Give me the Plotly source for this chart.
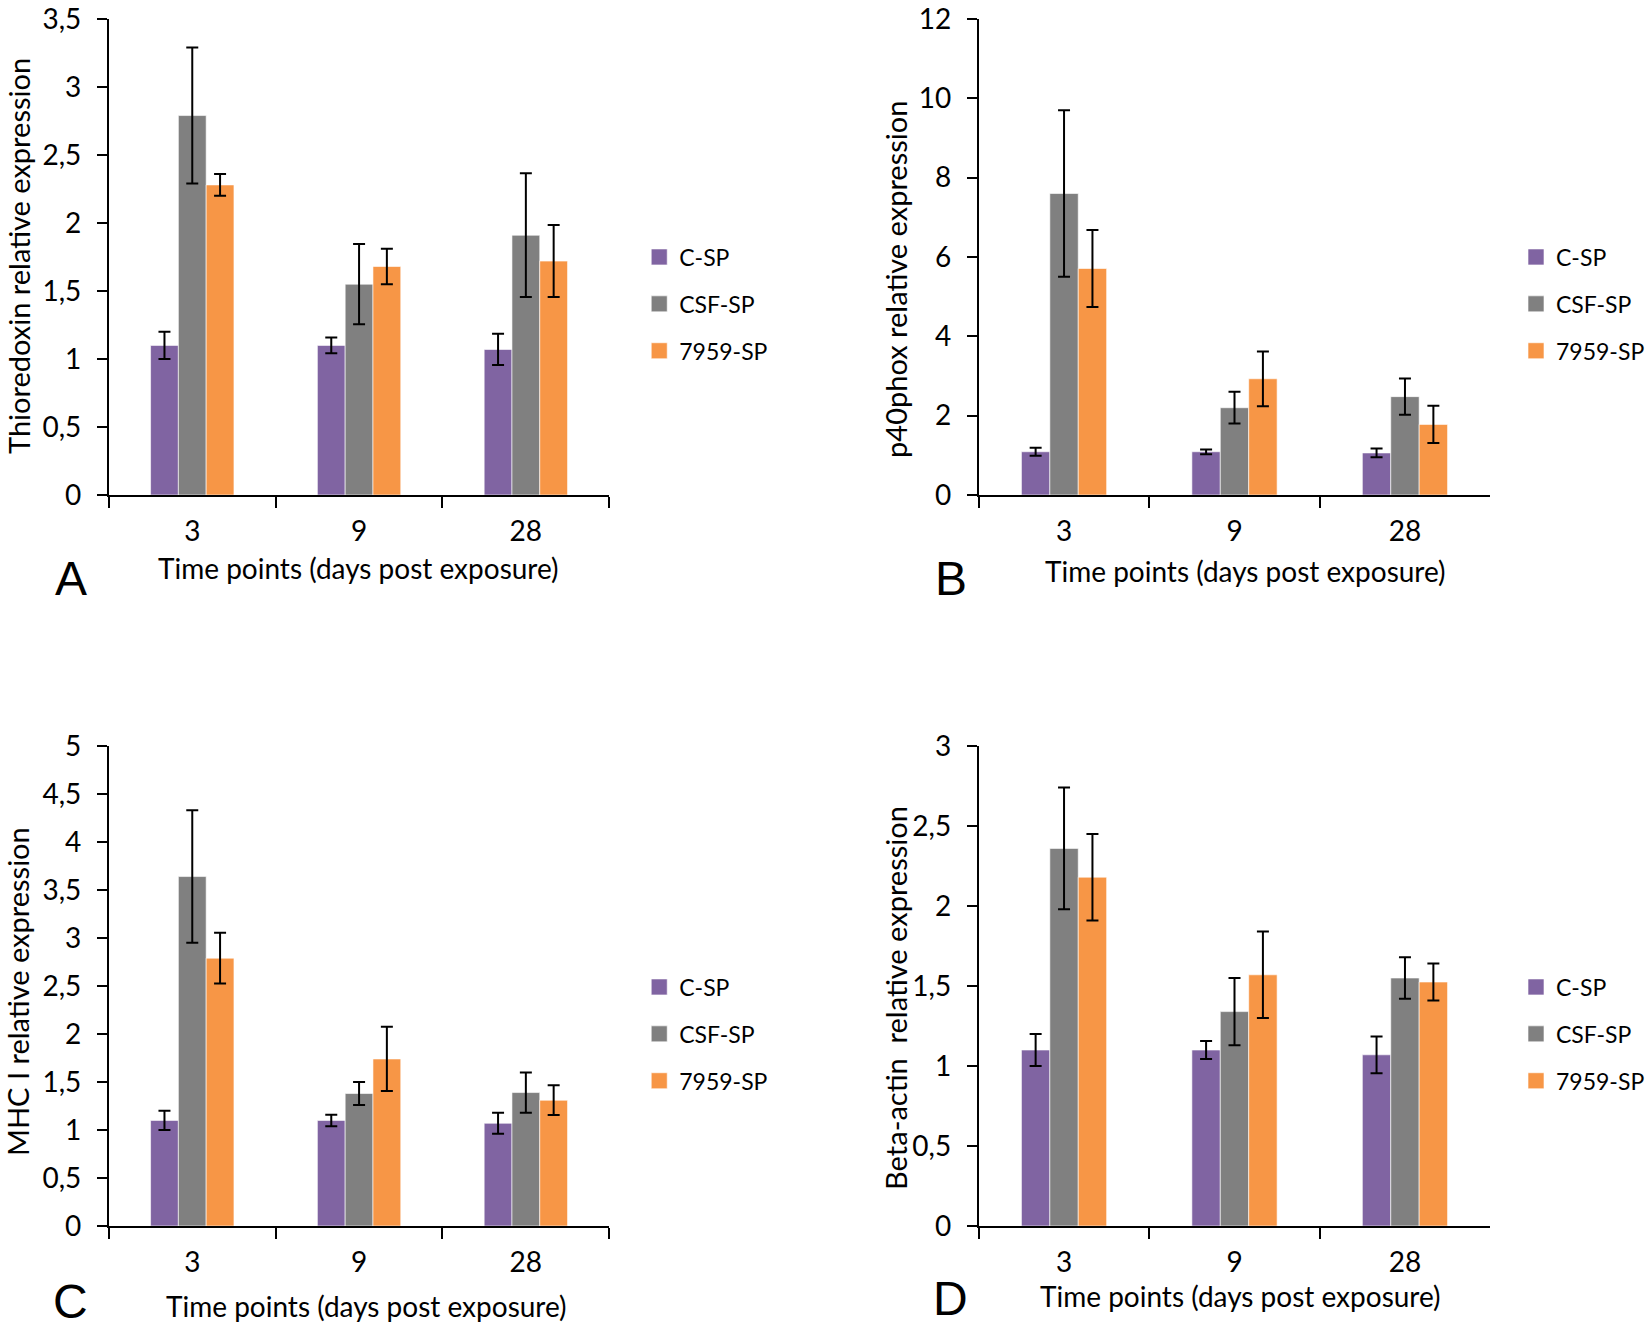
import plotly.graph_objects as go

# ---------------- data ----------------
days = ["3", "9", "28"]
series_names = ["C-SP", "CSF-SP", "7959-SP"]
series_colors = ["#8064A2", "#808080", "#F79646"]

# A: Thioredoxin
thio_c = [1.10, 1.10, 1.07]
thio_c_err = [0.10, 0.058, 0.115]
thio_csf = [2.79, 1.55, 1.91]
thio_csf_err = [0.50, 0.295, 0.455]
thio_7959 = [2.28, 1.68, 1.72]
thio_7959_err = [0.08, 0.13, 0.265]

# B: p40phox
p40_c = [1.09, 1.09, 1.06]
p40_c_err = [0.10, 0.06, 0.11]
p40_csf = [7.60, 2.20, 2.48]
p40_csf_err = [2.10, 0.40, 0.46]
p40_7959 = [5.71, 2.93, 1.78]
p40_7959_err = [0.97, 0.69, 0.47]

# C: MHC I
mhc_c = [1.10, 1.10, 1.07]
mhc_c_err = [0.10, 0.06, 0.11]
mhc_csf = [3.64, 1.38, 1.39]
mhc_csf_err = [0.69, 0.12, 0.21]
mhc_7959 = [2.79, 1.74, 1.31]
mhc_7959_err = [0.265, 0.335, 0.155]

# D: Beta-actin
act_c = [1.10, 1.10, 1.07]
act_c_err = [0.10, 0.057, 0.115]
act_csf = [2.36, 1.34, 1.55]
act_csf_err = [0.38, 0.21, 0.13]
act_7959 = [2.18, 1.57, 1.525]
act_7959_err = [0.27, 0.27, 0.115]

# axis ticks
thio_ticks = [0, 0.5, 1, 1.5, 2, 2.5, 3, 3.5]
thio_ticklabels = ["0", "0,5", "1", "1,5", "2", "2,5", "3", "3,5"]
p40_ticks = [0, 2, 4, 6, 8, 10, 12]
p40_ticklabels = ["0", "2", "4", "6", "8", "10", "12"]
mhc_ticks = [0, 0.5, 1, 1.5, 2, 2.5, 3, 3.5, 4, 4.5, 5]
mhc_ticklabels = ["0", "0,5", "1", "1,5", "2", "2,5", "3", "3,5", "4", "4,5", "5"]
act_ticks = [0, 0.5, 1, 1.5, 2, 2.5, 3]
act_ticklabels = ["0", "0,5", "1", "1,5", "2", "2,5", "3"]

y_titles = ["Thioredoxin relative expression", "p40phox relative expression",
            "MHC I relative expression", "Beta-actin  relative expression"]
x_title = "Time points (days post exposure)"
panel_letters = ["A", "B", "C", "D"]

# ---------------- layout geometry (pixels) ----------------
W, H = 1650, 1330
FONT = "Lato, 'Open Sans', sans-serif"


def fx(x):
    return x / W


def fy(y):
    return 1 - y / H


panels = [
    dict(vals=[thio_c, thio_csf, thio_7959], errs=[thio_c_err, thio_csf_err, thio_7959_err],
         ticks=thio_ticks, labels=thio_ticklabels, ymax=3.5,
         x0=109, x1=610, ytop=19, ybot=495,
         leg_x=640, leg_y=304, ytitle_x=18, ytitle_y=256,
         xtitle_x=359, xtitle_y=568, letter_x=71, letter_y=578),
    dict(vals=[p40_c, p40_csf, p40_7959], errs=[p40_c_err, p40_csf_err, p40_7959_err],
         ticks=p40_ticks, labels=p40_ticklabels, ymax=12,
         x0=980, x1=1492, ytop=19, ybot=495,
         leg_x=1518, leg_y=304, ytitle_x=896, ytitle_y=279,
         xtitle_x=1247, xtitle_y=571, letter_x=952, letter_y=578),
    dict(vals=[mhc_c, mhc_csf, mhc_7959], errs=[mhc_c_err, mhc_csf_err, mhc_7959_err],
         ticks=mhc_ticks, labels=mhc_ticklabels, ymax=5,
         x0=109, x1=610, ytop=746, ybot=1226,
         leg_x=640, leg_y=1034, ytitle_x=18, ytitle_y=991,
         xtitle_x=367, xtitle_y=1306, letter_x=71, letter_y=1301),
    dict(vals=[act_c, act_csf, act_7959], errs=[act_c_err, act_csf_err, act_7959_err],
         ticks=act_ticks, labels=act_ticklabels, ymax=3,
         x0=980, x1=1492, ytop=746, ybot=1226,
         leg_x=1518, leg_y=1034, ytitle_x=896, ytitle_y=998,
         xtitle_x=1242, xtitle_y=1296, letter_x=952, letter_y=1298),
]

fig = go.Figure()
layout = dict(
    width=W, height=H,
    margin=dict(l=0, r=0, t=0, b=0),
    paper_bgcolor="white", plot_bgcolor="white",
    barmode="group", bargap=0.5, bargroupgap=0,
    font=dict(family=FONT, size=28, color="black"),
    annotations=[],
)

for i, p in enumerate(panels):
    n = "" if i == 0 else str(i + 1)
    xa, ya = "x" + n, "y" + n
    leg = "legend" + n
    for s in range(3):
        fig.add_trace(go.Bar(
            x=days, y=p["vals"][s], name=series_names[s],
            xaxis=xa, yaxis=ya, showlegend=False,
            marker=dict(color=series_colors[s], line=dict(color="rgba(255,255,255,0.6)", width=1)),
            error_y=dict(type="data", array=p["errs"][s], visible=True,
                         color="black", thickness=2, width=6),
        ))
    # legend entries with larger square swatches (as in the reference)
    for s in range(3):
        fig.add_trace(go.Scatter(
            x=[None], y=[None], mode="markers", name=series_names[s],
            xaxis=xa, yaxis=ya, legend=leg, showlegend=True,
            legendgroup=f"{panel_letters[i]}-{series_names[s]}",
            marker=dict(symbol="square", size=16, color=series_colors[s],
                        line=dict(color="rgba(255,255,255,0.6)", width=1)),
            hoverinfo="skip",
        ))
    layout["xaxis" + n] = dict(
        domain=[fx(p["x0"]), fx(p["x1"])], anchor=ya, type="category",
        categoryorder="array", categoryarray=days,
        showline=True, linecolor="black", linewidth=2,
        ticks="outside", tickson="boundaries", ticklen=11, tickwidth=2, tickcolor="black",
        ticklabelstandoff=10, showgrid=False, zeroline=False,
        tickfont=dict(size=28), automargin=False, fixedrange=True,
    )
    layout["yaxis" + n] = dict(
        domain=[fy(p["ybot"]), fy(p["ytop"])], anchor=xa,
        range=[0, p["ymax"]], tickvals=p["ticks"], ticktext=p["labels"],
        showline=True, linecolor="black", linewidth=2,
        ticks="outside", ticklen=10, tickwidth=2, tickcolor="black",
        ticklabelstandoff=10, ticklabeloverflow="allow", showgrid=False, zeroline=False,
        tickfont=dict(size=28), automargin=False, fixedrange=True,
    )
    layout[leg] = dict(
        x=fx(p["leg_x"]), y=fy(p["leg_y"]), xanchor="left", yanchor="middle",
        font=dict(size=23), bgcolor="rgba(0,0,0,0)", borderwidth=0,
        tracegroupgap=14, traceorder="grouped", itemsizing="trace",
    )
    layout["annotations"] += [
        dict(text=y_titles[i], x=fx(p["ytitle_x"]), y=fy(p["ytitle_y"]),
             xref="paper", yref="paper", textangle=-90, showarrow=False,
             xanchor="center", yanchor="middle", font=dict(size=29)),
        dict(text=x_title, x=fx(p["xtitle_x"]), y=fy(p["xtitle_y"]),
             xref="paper", yref="paper", showarrow=False,
             xanchor="center", yanchor="middle", font=dict(size=28)),
        dict(text=panel_letters[i], x=fx(p["letter_x"]), y=fy(p["letter_y"]),
             xref="paper", yref="paper", showarrow=False,
             xanchor="center", yanchor="middle",
             font=dict(size=48, family="'Liberation Sans', Arial, sans-serif")),
    ]

fig.update_layout(**layout)
# let the 1650x1330 figure fill the window exactly (no default 8px page margin)
fig.write_html("out.html",
               config={"displayModeBar": False},
               post_script="document.body.style.margin='0';document.body.style.overflow='hidden';")
